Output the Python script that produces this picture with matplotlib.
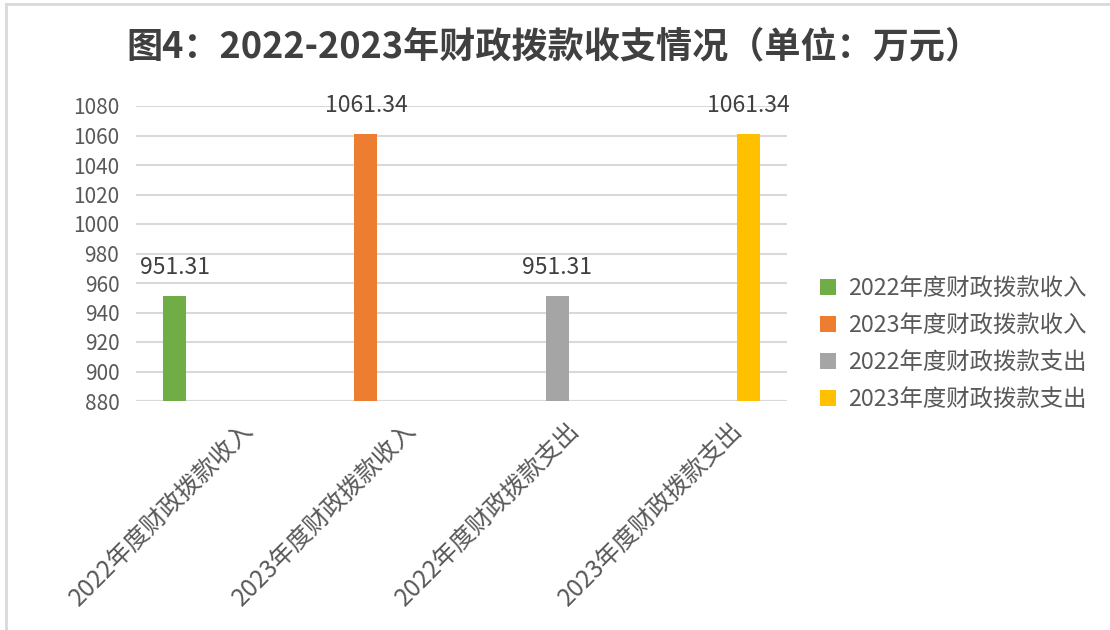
import matplotlib
matplotlib.use('Agg')
import matplotlib.pyplot as plt
import matplotlib.transforms as mtransforms
from matplotlib.lines import Line2D
from matplotlib.patches import Patch
import numpy as np

plt.rcParams['font.family'] = ['Noto Sans CJK SC', 'DejaVu Sans']

title = '图4：2022-2023年财政拨款收支情况（单位：万元）'
categories = ['2022年度财政拨款收入', '2023年度财政拨款收入',
              '2022年度财政拨款支出', '2023年度财政拨款支出']
series = ['2022年度财政拨款收入', '2023年度财政拨款收入',
          '2022年度财政拨款支出', '2023年度财政拨款支出']
values = [951.31, 1061.34, 951.31, 1061.34]
colors = ['#70AD47', '#ED7D31', '#A5A5A5', '#FFC000']
yticks = [880, 900, 920, 940, 960, 980, 1000, 1020, 1040, 1060, 1080]

txt = '#595959'

fig = plt.figure(figsize=(11.1, 6.3), dpi=100)
ax = fig.add_axes([136/1110, 1 - 401/630, 651/1110, 295/630])

x = np.arange(len(categories))
slot = 0.175
bw = 0.141
for i, (name, val, col) in enumerate(zip(series, values, colors)):
    pos = x[i] + (i - 1.5) * slot
    ax.bar(pos, val - 880, bottom=880, width=bw, color=col, zorder=3)
    ax.annotate(f'{val:.2f}', (pos, val), xytext=(0, 12), textcoords='offset points',
                ha='center', va='bottom', fontsize=16.5, color='#404040',
                annotation_clip=False)

ax.set_xlim(-0.5, len(categories) - 0.5)
ax.set_ylim(880, 1080)
ax.set_yticks(yticks)
ax.set_yticklabels([str(v) for v in yticks], fontsize=15, color=txt)
ax.yaxis.grid(True, color='#D9D9D9', linewidth=1.5, zorder=0)
ax.tick_params(axis='both', length=0)
ax.tick_params(axis='y', pad=12)
for s in ax.spines.values():
    s.set_visible(False)
ax.axhline(880, color='#D9D9D9', linewidth=1.5, zorder=2)

ax.set_xticks(x)
ax.set_xticklabels(categories, rotation=45, ha='right', va='top',
                   rotation_mode='anchor', fontsize=17.5, color=txt)
offset = mtransforms.ScaledTranslation(0.24, -0.12, fig.dpi_scale_trans)
for lab in ax.get_xticklabels():
    lab.set_transform(lab.get_transform() + offset)

handles = [Patch(facecolor=c, edgecolor='none') for c in colors]
fig.legend(handles, series, loc='center left',
           bbox_to_anchor=(808/1110, 1 - 344/630), frameon=False,
           fontsize=16.8, labelcolor=txt, handlelength=0.72, handleheight=0.72,
           handletextpad=0.5, labelspacing=0.6, borderpad=0)

fig.text(554/1110, 1 - 47/630, title, ha='center', va='center',
         fontsize=26, fontweight='bold', color='#404040')

fig.add_artist(Line2D([6/1110, 6/1110], [0, 1 - 4/630], transform=fig.transFigure,
                      color='#D9D9D9', linewidth=2))
fig.add_artist(Line2D([6/1110, 1], [1 - 4/630, 1 - 4/630], transform=fig.transFigure,
                      color='#D9D9D9', linewidth=2))

fig.savefig('out.png', dpi=100)
